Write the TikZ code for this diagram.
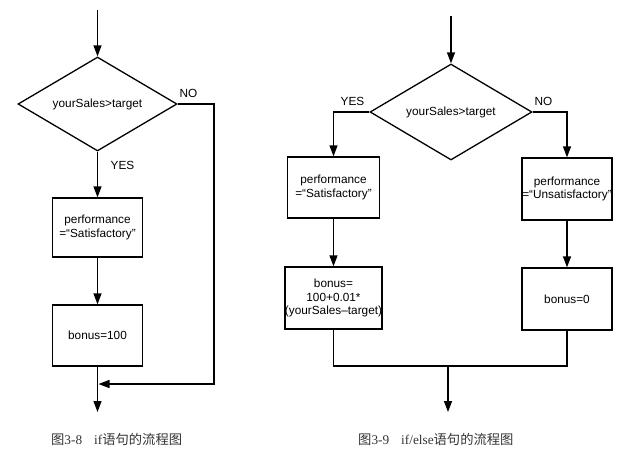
\documentclass[tikz,border=0pt]{standalone}
\usepackage{fontspec}
\setmainfont{Liberation Sans}
\newfontfamily\cjk{Noto Sans CJK SC}
\newfontfamily\capserif{Liberation Serif}
\usetikzlibrary{shapes.geometric,arrows.meta}
\begin{document}
\begin{tikzpicture}[x=1pt,y=-1pt,
  every node/.style={font=\fontsize{11.8pt}{13.3pt}\selectfont},
  line/.style={line width=1.3pt, line join=miter},
  arr/.style={line width=1.3pt, line join=miter, -{Triangle[length=11pt,width=8pt]}},
  dec/.style={draw, line width=1.3pt, diamond, inner sep=0pt, aspect=1.7},
  box/.style={draw, line width=1.3pt, rectangle, inner sep=0pt, align=center},
  lbl/.style={inner sep=0pt},
  captxt/.style={inner sep=0pt, anchor=west, text=black!80, font=\fontsize{13.3pt}{15pt}\selectfont\capserif}
]
\useasboundingbox (0,0) rectangle (640,461);
% ---------- left diagram ----------
\coordinate (s1) at (97.5,10);
\node[dec, minimum width=159pt, minimum height=94pt] (d1) at (97.5,104) {yourSales>target};
\node[box, minimum width=90pt, minimum height=59pt] (b1) at (97.5,227.5) {performance\\=“Satisfactory”};
\node[box, minimum width=90pt, minimum height=61pt] (b2) at (97.5,335.5) {bonus=100};
\coordinate (n1) at (214,104);
\coordinate (m1) at (98.5,384);
\coordinate (e1) at (97.5,412);
\draw[arr] (s1) -- (d1.north);
\draw[arr] (d1.south) -- (b1.north);
\draw[arr] (b1.south) -- (b2.north);
\draw[arr] (b2.south) -- (e1);
\draw[arr] (d1.east) -- (n1) |- (m1);
\node[lbl] (yes1) at (122.5,165) {YES};
\node[lbl] (no1) at (188.5,93) {NO};
\node[captxt] (c1) at (51,439) {{\cjk 图}3-8\hspace{0.9em}if{\cjk 语句的流程图}};
% ---------- right diagram ----------
\coordinate (s2) at (451,16);
\node[dec, minimum width=162pt, minimum height=96pt] (d2) at (451,112) {yourSales>target};
\node[box, minimum width=92pt, minimum height=61pt] (l1) at (333.5,187.5) {performance\\=“Satisfactory”};
\node[box, minimum width=92pt, minimum height=62pt] (l2) at (333.5,298) {bonus=\\100+0.01*\\(yourSales--target)};
\node[box, minimum width=90pt, minimum height=62pt] (r1) at (567,189) {performance\\=“Unsatisfactory”};
\node[box, minimum width=90pt, minimum height=62pt] (r2) at (567,299) {bonus=0};
\coordinate (jl) at (333.5,366);
\coordinate (jr) at (567,366);
\coordinate (jm) at (448,366);
\coordinate (e2) at (448,412);
\draw[arr] (s2) -- (d2.north);
\draw[arr] (d2.west) -| (l1.north);
\draw[arr] (d2.east) -| (r1.north);
\draw[arr] (l1.south) -- (l2.north);
\draw[arr] (r1.south) -- (r2.north);
\draw[line] (l2.south) -- (jl) -- (jr) -- (r2.south);
\draw[arr] (jm) -- (e2);
\node[lbl] (yes2) at (352.5,101) {YES};
\node[lbl] (no2) at (543.5,101) {NO};
\node[captxt] (c2) at (358,439) {{\cjk 图}3-9\hspace{0.9em}if/else{\cjk 语句的流程图}};
\end{tikzpicture}
\end{document}
